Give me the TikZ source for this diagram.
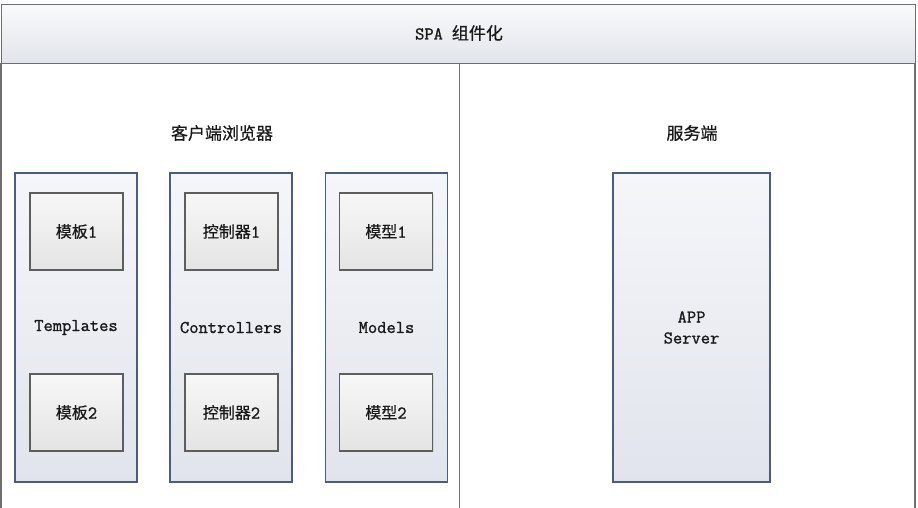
\documentclass[tikz,border=0pt]{standalone}
\usepackage{fontspec}
\newfontfamily\cjk{Noto Sans CJK SC}[FakeBold=0.5]
\newfontfamily\latm{Latin Modern Mono}[FakeBold=1.2]
\usetikzlibrary{shadows}
\definecolor{frameline}{HTML}{6E6E6E}
\definecolor{colline}{HTML}{4C5C7C}
\definecolor{boxline}{HTML}{5E5E5E}
\definecolor{hdrtop}{HTML}{F9FAFB}
\definecolor{hdrbot}{HTML}{E1E4EB}
\definecolor{coltop}{HTML}{F5F6FA}
\definecolor{colbot}{HTML}{E1E4EC}
\definecolor{boxtop}{HTML}{F7F7F7}
\definecolor{boxbot}{HTML}{E4E4E4}
\newcommand{\lat}{\latm\fontsize{18}{21}\selectfont}
\tikzset{
  hdrtext/.style={font=\fontsize{17}{19}\selectfont, text=black!90},
  lbltext/.style={font=\lat, text=black!90, align=center},
  column/.style={draw=colline, line width=1.1pt, top color=coltop, bottom color=colbot,
    minimum width=122pt, minimum height=309pt, inner sep=0pt, outer sep=0pt},
  server/.style={column, minimum width=157pt},
  itembox/.style={draw=boxline, line width=1.1pt, top color=boxtop, bottom color=boxbot,
    minimum width=93pt, minimum height=77pt, inner sep=0pt,
    font=\fontsize{16}{18}\selectfont, text=black!90,
    drop shadow={shadow xshift=1.2pt, shadow yshift=-1.2pt, opacity=0.25, fill=black!40}},
}
\begin{document}
\begin{tikzpicture}[x=1pt,y=-1pt]
\useasboundingbox (0,0) rectangle (918,508);
\fill[white] (0,0) rectangle (918,508);
% header
\node[draw=frameline, line width=1.1pt, top color=hdrtop, bottom color=hdrbot,
  minimum width=914pt, minimum height=59pt, inner sep=0pt, anchor=north west]
  (hdr) at (1,4) {};
\node[hdrtext] (title) at (459,33) {{\lat SPA}\hspace{9pt}{\cjk 组件化}};
% body frame lines
\coordinate (lt) at (1,63);
\coordinate (lb) at (1,510);
\coordinate (rt) at (915,63);
\coordinate (rb) at (915,510);
\coordinate (mt) at (459,63);
\coordinate (mb) at (459,510);
\draw[frameline, line width=1.1pt] (lt) -- (lb) (rt) -- (rb);
\draw[frameline, line width=0.9pt] (mt) -- (mb);
% section labels
\node[hdrtext] (client) at (222,133) {\cjk 客户端浏览器};
\node[hdrtext] (serverlbl) at (692,133) {\cjk 服务端};
% columns
\node[column] (colT) at (76,327.5) {};
\node[column] (colC) at (231,327.5) {};
\node[column] (colM) at (386.5,327.5) {};
\node[server] (app) at (691.5,327.5) {};
% column labels
\node[lbltext] (lT) at (76,327.5) {Templates};
\node[lbltext] (lC) at (231,327.5) {Controllers};
\node[lbltext] (lM) at (386.5,327.5) {Models};
\node[lbltext] (lA) at (691.5,327.5) {APP\\Server};
% item boxes
\node[itembox] (t1) at (76.5,231.5) {{\cjk 模板}{\lat 1}};
\node[itembox] (t2) at (76.5,412.5) {{\cjk 模板}{\lat 2}};
\node[itembox] (c1) at (231.5,231.5) {{\cjk 控制器}{\lat 1}};
\node[itembox] (c2) at (231.5,412.5) {{\cjk 控制器}{\lat 2}};
\node[itembox] (m1) at (386,231.5) {{\cjk 模型}{\lat 1}};
\node[itembox] (m2) at (386,412.5) {{\cjk 模型}{\lat 2}};
\end{tikzpicture}
\end{document}
